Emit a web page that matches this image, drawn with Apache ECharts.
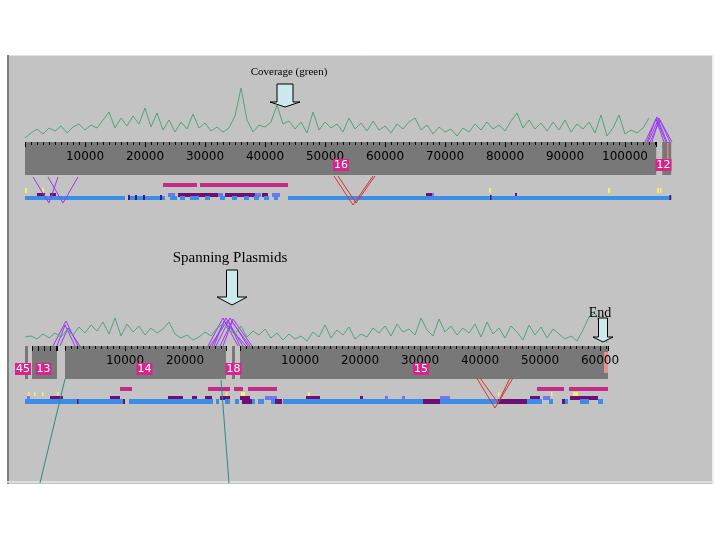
<!DOCTYPE html>
<html>
<head>
<meta charset="utf-8">
<script src="https://cdn.jsdelivr.net/npm/echarts@6/dist/echarts.min.js"></script>
<style>html,body{margin:0;background:#fff}#chart{width:720px;height:540px}</style>
</head>
<body>
<div id="chart"></div>
<script>
// ---- data: positions in bp along each track ----
const COV_STEP = 1000;
// coverage (height of green trace), one value per 1000 bp
const covTop = [4,9,13,8,14,11,16,9,15,18, 12,17,14,22,30,14,24,16,26,18,
  34,15,29,12,22,10,20,13,28,14, 19,11,15,10,14,26,54,22,10,17,
  15,20,37,18,21,13,20,9,30,12, 20,14,18,10,24,13,19,11,21,12,
  16,9,18,13,20,24,12,17,8,15, 10,13,6,14,10,18,12,20,13,17,
  11,21,29,14,22,13,19,11,20,12, 22,10,18,13,20,9,27,6,14,27,
  8,12,9,14,24];
const covBottom = [9,10,7,12,8,13,9,16,11,19, 13,21,15,24,12,28,10,22,14,20,
  11,18,13,17,24,12,8,11,6,9, 14,10,18,22,16,12,20,9,15,11,
  17,8,13,6,12,7,10,5,14,9, 21,8,16,11,19,7,12,9,18,13,
  20,10,22,14,17,11,28,16,10,27, 14,20,11,18,13,22,9,24,12,18,
  8,20,14,6,21,11,19,8,17,12, 7,10,5,16,29,33,20,3];

// contigs
const contigsTop = [[0, 105200], [106200, 107700]];
const contigNamesTop = ['16', '12'];
const contigLabelPosTop = [52667, 106417];
const contigsBottom = [[0, 500], [1167, 5333], [6667, 33500], [34500, 35000], [35833, 97167]];
const contigNamesBottom = ['45', '13', '14', '18', '15'];
const contigLabelPosBottom = [-333, 3083, 19917, 34750, 66000];

// features, top track
const pinkTop = [[23000, 28667], [29167, 43833]];
const yellowTop = [[0, 333], [2833, 3167], [77333, 77667], [97167, 97500], [105333, 105667], [105833, 106000]];
const purpleTop = [[2000, 3333], [4167, 5167], [25500, 32167], [33333, 38333], [39500, 40500], [66833, 67833], [81667, 82000]];
const periTop = [[23833, 25000], [32167, 33000], [38333, 39333], [41167, 42500], [67833, 68167]];
const blueTop = [[0, 16667], [17167, 23333], [24167, 25333], [25833, 26667], [27500, 29000], [30000, 30833],
  [32500, 33333], [34500, 35333], [36500, 37333], [38167, 39000], [39833, 40667], [41500, 42167], [43833, 107700]];
const darkLineTop = [[17167, 17500], [18333, 18667], [19667, 20000], [22500, 22833], [77500, 77667], [107400, 107700]];
const arcsTop = [
  [[103333, 0], [105333, 25], [107000, 0]],
  [[103833, 0], [105667, 24], [107500, 0]],
  [[104167, 0], [105833, 22], [107833, 0]],
  [[104500, 0], [105500, 20], [106833, 0]],
  [[103667, 0], [105167, 23], [106500, 0]]
];
const purpleVTop = [
  [[1333, 35], [4000, 61], [5500, 35]],
  [[3833, 35], [6333, 61], [8833, 35]]
];
const redVTop = [
  [[51500, 34], [54667, 63], [58000, 34]],
  [[52167, 34], [55167, 61], [58333, 34]]
];

// features, bottom track
const pinkBottom = [[15833, 17833], [30500, 34167], [34833, 36333], [37167, 42000], [85333, 89833], [90667, 97167]];
const yellowBottom = [[500, 700], [1500, 1700], [2833, 3000], [5333, 5500], [33500, 33667], [36000, 36667],
  [47167, 47500], [78833, 79000], [87667, 87833], [91333, 92167]];
const purpleBottom = [[4167, 6333], [14167, 15833], [23833, 26333], [27833, 28667], [30000, 31167], [32500, 34167],
  [35833, 37500], [46833, 49167], [55833, 56333], [84167, 85833], [90833, 95500]];
const periBottom = [[333, 833], [40000, 42000], [60000, 60500], [62833, 63333], [69167, 70833], [86333, 87500]];
const blueBottom = [[0, 16667], [17333, 31333], [31833, 32333], [33333, 34167], [35000, 35667], [36833, 37167],
  [37833, 38333], [38833, 39833], [41000, 41667], [43000, 86167], [87333, 88000], [89833, 90500], [92500, 94000], [95500, 96333]];
const darkLineBottom = [[8667, 8833], [16333, 16667], [36167, 37833], [41667, 42833], [66333, 69167], [78833, 83667], [89500, 90000]];
const endMarkBottom = [[96500, 97167]];
const arcsBottom = [
  [[4667, 0], [6833, 25], [8833, 0]],
  [[5333, 0], [6667, 21], [8333, 0]],
  [[5833, 0], [7167, 18], [9167, 0]],
  [[30500, 0], [33000, 28], [35500, 0]],
  [[31167, 0], [33500, 28], [36333, 0]],
  [[31833, 0], [34167, 28], [37167, 0]],
  [[32500, 0], [34667, 27], [37833, 0]],
  [[30833, 0], [33833, 26], [35833, 0]],
  [[31500, 0], [33167, 25], [36833, 0]],
  [[33000, 0], [34500, 24], [37500, 0]]
];
const redVBottom = [
  [[75283, 32], [78333, 62], [81333, 32]],
  [[75833, 32], [78833, 57], [80833, 32]]
];
const tealLines = [
  [[6667, 33], [2500, 137]],
  [[32667, 34], [34000, 137]]
];

// ---- layout ----
const TRACK = { min: -1000, max: 110000, left: 19, width: 666 };
const PX = TRACK.width / (TRACK.max - TRACK.min);

const grids = [], xAxes = [], yAxes = [], series = [];
function addGrid(g, x, y) {
  grids.push(Object.assign({ outerBoundsMode: 'none', containLabel: false }, g));
  const i = grids.length - 1;
  xAxes.push(Object.assign({ gridIndex: i }, x));
  yAxes.push(Object.assign({ gridIndex: i }, y));
  return i;
}
const trackX = { type: 'value', min: TRACK.min, max: TRACK.max, show: false };
const gCovT = addGrid({ left: TRACK.left, width: TRACK.width, top: 80, height: 62 }, trackX, { type: 'value', min: 0, max: 62, show: false });
const gTrkT = addGrid({ left: TRACK.left, width: TRACK.width, top: 142, height: 68 }, trackX, { type: 'value', min: 0, max: 68, inverse: true, show: false });
const gCovB = addGrid({ left: TRACK.left, width: TRACK.width, top: 296, height: 50 }, trackX, { type: 'value', min: 0, max: 50, show: false });
const gTrkB = addGrid({ left: TRACK.left, width: TRACK.width, top: 346, height: 137 }, trackX, { type: 'value', min: 0, max: 137, inverse: true, show: false });

// one ruler per labelled contig, counting from the contig start
function addRuler(contig, top, interval, minor, labels) {
  const [s, e] = contig;
  addGrid({ left: TRACK.left + (s - TRACK.min) * PX, width: (e - s) * PX, top, height: 33 },
    {
      type: 'value', min: 0, max: e - s, interval, position: 'top', z: 5,
      axisLine: { show: false, onZero: false }, splitLine: { show: false },
      axisTick: { show: true, inside: true, length: 5, lineStyle: { color: '#000' } },
      minorTick: { show: minor, splitNumber: 10, length: 3, lineStyle: { color: '#000' } },
      axisLabel: { show: labels, inside: true, margin: 9, color: '#000', fontSize: 12, fontFamily: 'DejaVu Sans',
        showMinLabel: false, showMaxLabel: false, formatter: v => String(v) }
    },
    { type: 'value', min: 0, max: 1, show: false });
}
addRuler(contigsTop[0], 142, 10000, true, true);
addRuler(contigsBottom[1], 346, 1000, false, false);
addRuler(contigsBottom[2], 346, 10000, true, true);
addRuler(contigsBottom[4], 346, 10000, true, true);

function rectSeries(grid, data, y0, y1, color) {
  return {
    type: 'custom', xAxisIndex: grid, yAxisIndex: grid, data, encode: { x: [0, 1] }, silent: true,
    renderItem(params, api) {
      const a = api.coord([api.value(0), y0]), b = api.coord([api.value(1), y1]);
      return { type: 'rect', shape: { x: a[0], y: a[1], width: Math.max(1.5, b[0] - a[0]), height: b[1] - a[1] }, style: { fill: color } };
    }
  };
}
function polySeries(grid, paths, color, width) {
  return {
    type: 'lines', coordinateSystem: 'cartesian2d', xAxisIndex: grid, yAxisIndex: grid, polyline: true, silent: true, z: 3,
    lineStyle: { color, width, opacity: 1 }, data: paths.map(c => ({ coords: c }))
  };
}
function labelSeries(grid, names, pos, lane) {
  return {
    type: 'custom', xAxisIndex: grid, yAxisIndex: grid, z: 6, silent: true,
    data: pos.map(p => [p, lane]),
    renderItem(params, api) {
      const p = api.coord([api.value(0), api.value(1)]);
      return { type: 'text', x: p[0], y: p[1], style: {
        text: names[params.dataIndex], fill: '#fff', backgroundColor: '#d7258c', padding: [1, 1, 0, 1],
        font: '11px "DejaVu Sans"', align: 'center', verticalAlign: 'middle' } };
    }
  };
}
function coverageSeries(grid, values) {
  return {
    type: 'line', xAxisIndex: grid, yAxisIndex: grid, symbol: 'none', silent: true,
    lineStyle: { color: '#4fa678', width: 1 }, data: values.map((v, i) => [i * COV_STEP, v])
  };
}

const GRAY = '#787878', PINK = '#c42a86', YELLOW = '#f2f06a', PURPLE = '#6e0f78', PERI = '#7474f0',
  BLUE = '#3a8ee8', NAVY = '#3a1a8a', VIOLET = '#9a38ee', RED = '#d23434', TEAL = '#2a8c82';

// top track
series.push(coverageSeries(gCovT, covTop));
series.push(polySeries(gCovT, arcsTop, VIOLET, 1));
series.push(rectSeries(gTrkT, contigsTop, 0, 33, GRAY));
series.push(rectSeries(gTrkT, [[107000, 107180]], 1, 22, '#e08080'));
series.push(rectSeries(gTrkT, pinkTop, 41, 45, PINK));
series.push(rectSeries(gTrkT, yellowTop, 46, 51, YELLOW));
series.push(rectSeries(gTrkT, purpleTop, 51, 55, PURPLE));
series.push(rectSeries(gTrkT, periTop, 51, 55, PERI));
series.push(rectSeries(gTrkT, blueTop, 54, 58, BLUE));
series.push(rectSeries(gTrkT, darkLineTop, 53, 58, NAVY));
series.push(polySeries(gTrkT, purpleVTop, VIOLET, 1));
series.push(polySeries(gTrkT, redVTop, RED, 1));
series.push(labelSeries(gTrkT, contigNamesTop, contigLabelPosTop, 23));

// bottom track
series.push(coverageSeries(gCovB, covBottom));
series.push(polySeries(gCovB, arcsBottom, VIOLET, 1));
series.push(rectSeries(gTrkB, contigsBottom, 0, 33, GRAY));
series.push(rectSeries(gTrkB, endMarkBottom, 6, 27, '#e49090'));
series.push(rectSeries(gTrkB, pinkBottom, 41, 45, PINK));
series.push(rectSeries(gTrkB, yellowBottom, 46, 50, YELLOW));
series.push(rectSeries(gTrkB, purpleBottom, 50, 54, PURPLE));
series.push(rectSeries(gTrkB, periBottom, 50, 54, PERI));
series.push(rectSeries(gTrkB, blueBottom, 53, 58, BLUE));
series.push(rectSeries(gTrkB, darkLineBottom, 53, 58, PURPLE));
series.push(polySeries(gTrkB, redVBottom, RED, 1));
series.push(polySeries(gTrkB, tealLines, TEAL, 1));
series.push(labelSeries(gTrkB, contigNamesBottom, contigLabelPosBottom, 23));

function arrow(cx, y0, y1, y2, shaftW, headW) {
  const s = shaftW / 2, h = headW / 2;
  return {
    type: 'polygon', z: 10, silent: true,
    shape: { points: [[cx - s, y0], [cx + s, y0], [cx + s, y1], [cx + h, y1], [cx, y2], [cx - h, y1], [cx - s, y1]] },
    style: { fill: '#cce9ec', stroke: '#000', lineWidth: 1 }
  };
}
const serif = '"Liberation Serif", "DejaVu Serif", serif';

const chart = echarts.init(document.getElementById('chart'), null, { renderer: 'canvas' });
chart.setOption({
  backgroundColor: '#ffffff',
  animation: false,
  grid: grids,
  xAxis: xAxes,
  yAxis: yAxes,
  series,
  graphic: [
    { type: 'rect', z: -10, silent: true, shape: { x: 7, y: 55, width: 707, height: 429 }, style: { fill: '#c3c3c3' } },
    { type: 'line', z: -9, silent: true, shape: { x1: 7, y1: 55.5, x2: 714, y2: 55.5 }, style: { stroke: '#e2e2e2', lineWidth: 1 } },
    { type: 'line', z: -9, silent: true, shape: { x1: 8, y1: 55, x2: 8, y2: 484 }, style: { stroke: '#7e7e7e', lineWidth: 2 } },
    { type: 'line', z: -9, silent: true, shape: { x1: 713, y1: 55, x2: 713, y2: 484 }, style: { stroke: '#f0f0f0', lineWidth: 2 } },
    { type: 'line', z: -9, silent: true, shape: { x1: 7, y1: 482, x2: 714, y2: 482 }, style: { stroke: '#e6e6e6', lineWidth: 1.5 } },
    { type: 'text', z: 10, silent: true, x: 289, y: 72, style: { text: 'Coverage (green)', font: '11px ' + serif, fill: '#000', align: 'center', verticalAlign: 'middle' } },
    arrow(285, 84, 102, 107, 16, 30),
    { type: 'text', z: 10, silent: true, x: 230, y: 258, style: { text: 'Spanning Plasmids', font: '15px ' + serif, fill: '#000', align: 'center', verticalAlign: 'middle' } },
    arrow(232, 270, 297, 305, 11, 30),
    { type: 'text', z: 10, silent: true, x: 600, y: 313, style: { text: 'End', font: '14px ' + serif, fill: '#000', align: 'center', verticalAlign: 'middle' } },
    arrow(603, 318, 337, 342, 9, 20)
  ]
});
</script>
</body>
</html>
